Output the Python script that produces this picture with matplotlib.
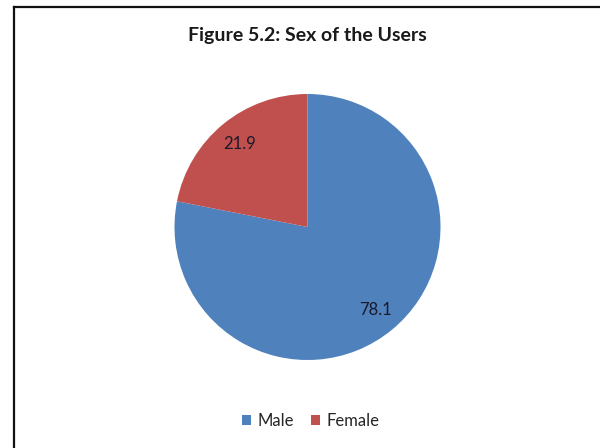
import numpy as np
import matplotlib.pyplot as plt
from matplotlib.lines import Line2D
from matplotlib.patches import Patch

# data
categories = ["Male", "Female"]
shares = [78.1, 21.9]
share_labels = ["78.1", "21.9"]
colors = ["#4F81BD", "#C0504D"]

plt.rcParams['font.family'] = ['Lato', 'DejaVu Sans']

fig = plt.figure(figsize=(6, 4.48), dpi=100)
fig.patch.set_facecolor("white")

# pie area: centre (307, 227) px, radius ~133 px
W, H = 600, 448
cx, cy, r = 307.5, 227, 133
ax = fig.add_axes([(cx - r) / W, (H - cy - r) / H, 2 * r / W, 2 * r / H])
wedges, _ = ax.pie(shares, colors=colors, startangle=90, counterclock=False,
                   radius=1, wedgeprops=dict(linewidth=0))
ax.set_xlim(-1, 1)
ax.set_ylim(-1, 1)
ax.set_axis_off()

# value labels inside each slice
for w, lab in zip(wedges, share_labels):
    mid = np.deg2rad((w.theta1 + w.theta2) / 2)
    ax.text(0.81 * np.cos(mid), 0.81 * np.sin(mid), lab, ha="center", va="center",
            fontsize=12, color="#1a1a2a")

fig.text(307 / W, 1 - 36 / H, "Figure 5.2: Sex of the Users", ha="center", va="center",
         fontsize=14, fontweight="bold", color="#1a1a1a")

handles = [Patch(facecolor=c, edgecolor="none") for c in colors]
fig.legend(handles, categories, loc="center", bbox_to_anchor=(311 / W, 1 - 421 / H),
           ncol=2, frameon=False, fontsize=12, handlelength=0.55, handleheight=0.55,
           handletextpad=0.4, columnspacing=1.0, labelcolor="#262626")

# chart frame (only left and top edges visible in the crop)
fig.add_artist(Line2D([13.5 / W, 13.5 / W], [0, 1 - 7 / H], color="#111111", lw=1.6))
fig.add_artist(Line2D([13.5 / W, 1], [1 - 7 / H, 1 - 7 / H], color="#111111", lw=1.6))

fig.savefig("out.png", dpi=100, facecolor="white")
